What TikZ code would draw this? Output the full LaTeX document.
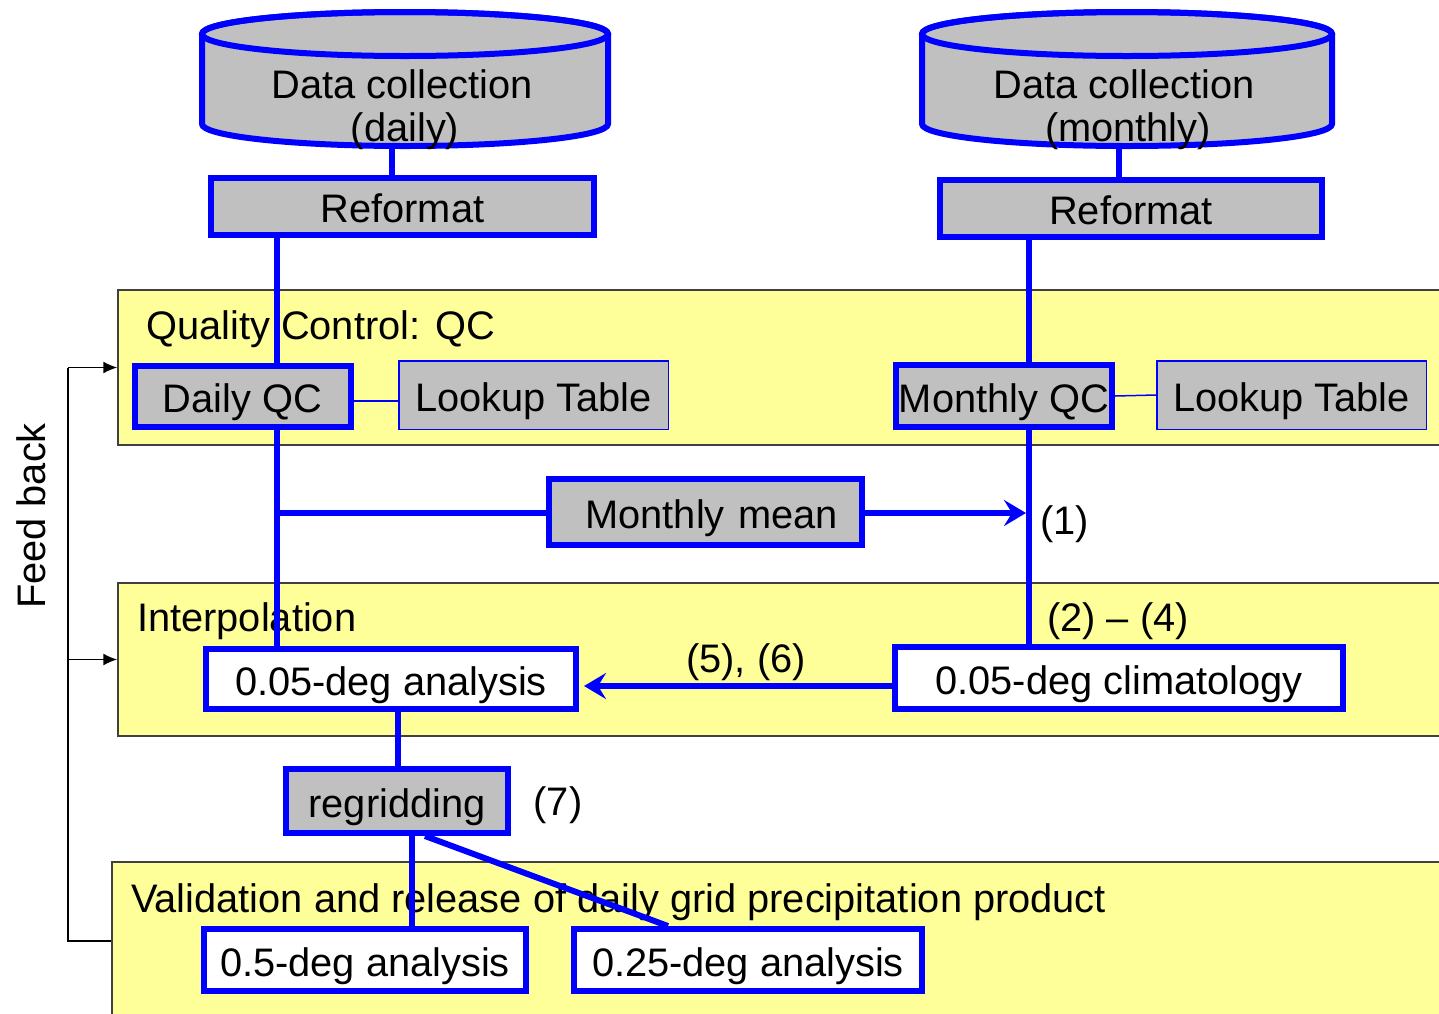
\documentclass[tikz,border=0pt]{standalone}
\usepackage{fontspec}
\setmainfont{Liberation Sans}
\usetikzlibrary{arrows.meta}
\definecolor{qblue}{HTML}{0000FF}
\definecolor{qgray}{HTML}{C0C0C0}
\definecolor{qyellow}{HTML}{FFFF99}
\begin{document}
\begin{tikzpicture}[x=1pt,y=-1pt,
  font=\fontsize{39.8}{43}\selectfont,
  every node/.style={text height=32pt, text depth=0pt},
  box/.style={draw=qblue, line width=6pt, fill=qgray, inner sep=0pt, align=center},
  wbox/.style={box, fill=white},
  thinbox/.style={draw=qblue, line width=1.5pt, fill=qgray, inner sep=0pt},
  panel/.style={draw=black!75, line width=1.5pt, fill=qyellow, inner sep=0pt},
  cylshape/.style={draw=qblue, line width=6pt, fill=qgray},
  bline/.style={draw=qblue, line width=6pt},
  tline/.style={draw=qblue, line width=1.5pt},
  barrow/.style={bline, -{Stealth[length=22pt,width=26pt,inset=8pt]}},
  fb/.style={draw=black, line width=1.5pt},
  fbarrow/.style={fb, -{Latex[length=14pt,width=12pt]}},
  lbl/.style={inner sep=0pt, anchor=west},
  plain/.style={inner sep=0pt}
]
\useasboundingbox (0,0) rectangle (1439,1013);

% panels
\node[panel, minimum width=1327, minimum height=155] (pqc) at (781.5,367.5) {};
\node[panel, minimum width=1327, minimum height=153] (pint) at (781.5,659.5) {};
\node[panel, minimum width=1333, minimum height=158] (pval) at (778.5,941) {};
\node[lbl] (tqc) at (146,323) {Quality Control: QC};
\node[lbl] (tint) at (137,615) {Interpolation};
\node[lbl] (tval) at (131,896) {Validation and release of daily grid precipitation product};

% cylinders
\path[cylshape] (202,34) -- (202,124) arc[start angle=180, end angle=0, x radius=203, y radius=22]
  -- (608,34) arc[start angle=0, end angle=-180, x radius=203, y radius=22] -- cycle;
\draw[qblue, line width=6pt] (405,34) ellipse[x radius=203, y radius=22];
\node[minimum width=406, minimum height=134, inner sep=0pt] (dc1) at (405,79) {};
\node[plain] (dc1a) at (402,82) {Data collection};
\node[plain] (dc1b) at (405,125) {(daily)};

\path[cylshape] (922,34) -- (922,124) arc[start angle=180, end angle=0, x radius=205, y radius=22]
  -- (1332,34) arc[start angle=0, end angle=-180, x radius=205, y radius=22] -- cycle;
\draw[qblue, line width=6pt] (1127,34) ellipse[x radius=205, y radius=22];
\node[minimum width=410, minimum height=134, inner sep=0pt] (dc2) at (1127,79) {};
\node[plain] (dc2a) at (1124,82) {Data collection};
\node[plain] (dc2b) at (1128,125) {(monthly)};

% boxes
\node[box, minimum width=383, minimum height=57] (rf1) at (402.5,206.5) {Reformat};
\node[box, minimum width=382, minimum height=57] (rf2) at (1131,208.5) {Reformat};
\node[box, minimum width=216, minimum height=61] (dqc) at (242.5,396.5) {Daily QC};
\node[thinbox, minimum width=269.5, minimum height=68.5] (lt1) at (533.5,395) {Lookup Table};
\node[box, minimum width=216, minimum height=62] (mqc) at (1004,396) {Monthly QC};
\node[thinbox, minimum width=269.5, minimum height=68.5] (lt2) at (1291.5,395) {Lookup Table};
\node[box, minimum width=313, minimum height=66, text width=313pt, align=center] (mm) at (705.5,512) {\hspace*{12pt}Monthly mean};
\node[wbox, minimum width=370, minimum height=60] (a05) at (391,679) {0.05-deg analysis};
\node[wbox, minimum width=448, minimum height=62] (clim) at (1119,678) {0.05-deg climatology};
\node[box, minimum width=222, minimum height=64] (regr) at (397,801) {regridding};
\node[wbox, minimum width=322, minimum height=62] (a5) at (365,960) {0.5-deg analysis};
\node[wbox, minimum width=348, minimum height=62] (a25) at (748,960) {0.25-deg analysis};

% labels
\node[lbl] (l1) at (1040,518) {(1)};
\node[plain] (l24) at (1118,615) {(2) – (4)};
\node[plain] (l56) at (746,656) {(5), (6)};
\node[plain] (l7) at (558,799) {(7)};
\node[plain, rotate=90] (fbt) at (29,516) {Feed back};

% named x positions
\coordinate (xD1) at (392,0);
\coordinate (xD2) at (1119,0);
\coordinate (xL) at (277,0);
\coordinate (xR) at (1029,0);
\coordinate (xG) at (412,0);
\coordinate (xA) at (398,0);
\coordinate (fbx) at (68,0);

% connectors
\draw[bline] (dc1.south -| xD1) -- (rf1.north -| xD1);
\draw[bline] (dc2.south -| xD2) -- (rf2.north -| xD2);
\draw[bline] (rf1.south -| xL) -- (dqc.north -| xL);
\draw[bline] (dqc.south -| xL) -- (a05.north -| xL);
\draw[bline] ([yshift=-1pt]mm.west -| xL) -- ([yshift=-1pt]mm.west);
\draw[barrow] ([yshift=-1pt]mm.east) -- ([yshift=-1pt,xshift=-3pt]mm.east -| xR);
\draw[bline] (rf2.south -| xR) -- (mqc.north -| xR);
\draw[bline] (mqc.south -| xR) -- (clim.north -| xR);
\draw[barrow] ([yshift=-8pt]clim.west) -- ([yshift=-8pt,xshift=5pt]clim.west -| a05.east);
\draw[bline] (a05.south -| xA) -- (regr.north -| xA);
\draw[bline] (regr.south -| xG) -- (a5.north -| xG);
\draw[bline] ([xshift=28pt]regr.south) -- ([xshift=-80pt]a25.north);
\draw[tline] ([yshift=-4.5pt]dqc.east) -- ([yshift=-4.5pt]dqc.east -| lt1.west);
\draw[tline] (mqc.east) -- (lt2.west);

% feedback
\draw[fb] (pqc.west -| fbx) -- (pval.west -| fbx) -- (pval.west);
\draw[fbarrow] (pqc.west -| fbx) -- (pqc.west);
\draw[fbarrow] (pint.west -| fbx) -- (pint.west);
\end{tikzpicture}
\end{document}
